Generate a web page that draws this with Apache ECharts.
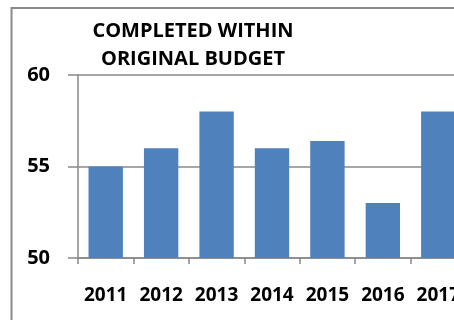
<!DOCTYPE html>
<html>
<head>
<meta charset="utf-8">
<script src="https://cdn.jsdelivr.net/npm/echarts@6/dist/echarts.min.js"></script>
<style>
html, body { margin:0; padding:0; overflow:hidden; background:#fff; }
#chart { position:absolute; left:0; top:0; width:520px; height:320px; }
</style>
</head>
<body>
<div id="chart"></div>
<script>
const titleLines = ['COMPLETED WITHIN', 'ORIGINAL BUDGET'];
const years = ['2011', '2012', '2013', '2014', '2015', '2016', '2017'];
const values = [55, 56, 58, 56, 56.4, 53, 58];
const yMin = 50, yMax = 60, yStep = 5;

const chart = echarts.init(document.getElementById('chart'), null, {renderer:'canvas'});
const font = '"Open Sans", Lato, sans-serif';
chart.setOption({
  animation: false,
  backgroundColor: '#fff',
  title: {
    text: titleLines.join('\n'),
    left: 188, top: 12,
    textAlign: 'center',
    textStyle: { fontFamily: font, fontWeight: 'bold', fontSize: 20, lineHeight: 28, color: '#000' }
  },
  graphic: [{
    type: 'rect', silent: true,
    shape: { x: 11.5, y: 8, width: 700, height: 400 },
    style: { fill: 'none', stroke: '#8a8a8a', lineWidth: 2 }
  }],
  grid: { left: 78, top: 75, width: 388, height: 183 },
  xAxis: {
    type: 'category',
    data: years,
    axisLine: { lineStyle: { color: '#888', width: 1.5 } },
    axisTick: { show: true, length: 6, lineStyle: { color: '#888', width: 1.5 } },
    axisLabel: { margin: 28, color: '#000', fontFamily: font, fontWeight: 'bold', fontSize: 19, interval: 0 }
  },
  yAxis: {
    type: 'value',
    min: yMin, max: yMax, interval: yStep,
    axisLine: { show: true, lineStyle: { color: '#888', width: 1.5 } },
    axisTick: { show: true, length: 10, lineStyle: { color: '#888', width: 1.5 } },
    splitLine: { lineStyle: { color: '#888', width: 1.5 } },
    axisLabel: { margin: 28, color: '#000', fontFamily: font, fontWeight: 'bold', fontSize: 20 }
  },
  series: [{
    type: 'bar',
    data: values,
    barWidth: '62%',
    itemStyle: { color: '#4f81bd' }
  }]
});
</script>
</body>
</html>
